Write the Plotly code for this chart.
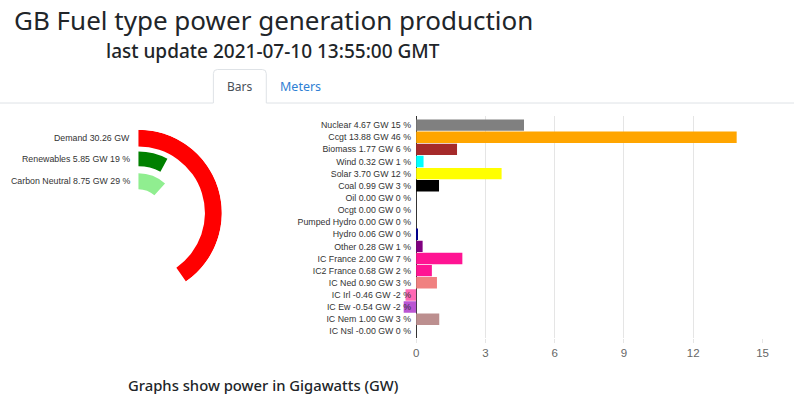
import plotly.graph_objects as go

# ---------------- data ----------------
fuel_names = ["Nuclear", "Ccgt", "Biomass", "Wind", "Solar", "Coal", "Oil", "Ocgt",
              "Pumped Hydro", "Hydro", "Other", "IC France", "IC2 France", "IC Ned",
              "IC Irl", "IC Ew", "IC Nem", "IC Nsl"]
fuel_gw = [4.67, 13.88, 1.77, 0.32, 3.70, 0.99, 0.00, 0.00,
           0.00, 0.06, 0.28, 2.00, 0.68, 0.90,
           -0.46, -0.54, 1.00, -0.00]
fuel_gw_text = ["4.67", "13.88", "1.77", "0.32", "3.70", "0.99", "0.00", "0.00",
                "0.00", "0.06", "0.28", "2.00", "0.68", "0.90",
                "-0.46", "-0.54", "1.00", "-0.00"]
fuel_pct = [15, 46, 6, 1, 12, 3, 0, 0, 0, 0, 1, 7, 2, 3, -2, -2, 3, 0]
fuel_colors = ["#808080", "#FFA500", "#A52A2A", "#00FFFF", "#FFFF00", "#000000",
               "#808000", "#FFC0CB", "#1E90FF", "#00008B", "#800080", "#FF1493",
               "#FF1493", "#F08080", "#FF69B4", "#BA55D3", "#BC8F8F", "#4682B4"]
x_ticks = [0, 3, 6, 9, 12, 15]

radial_names = ["Demand", "Renewables", "Carbon Neutral"]
radial_gw = [30.26, 5.85, 8.75]
radial_gw_text = ["30.26", "5.85", "8.75"]
radial_pct = [None, 19, 29]
radial_colors = ["#FF0000", "#008000", "#90EE90"]
radial_full_circle_gw = 75.0

title_text = "GB Fuel type power generation production"
subtitle_text = "last update 2021-07-10 13:55:00 GMT"
footer_text = "Graphs show power in Gigawatts (GW)"
tab_labels = ["Bars", "Meters"]

# ---------------- layout helpers ----------------
W, H = 800, 398


def px(x):
    return x / W


def py(y):
    return 1 - y / H


bar_labels = [f"{n} {t} GW {p} %" for n, t, p in zip(fuel_names, fuel_gw_text, fuel_pct)]

fig = go.Figure()

fig.add_trace(go.Bar(
    x=fuel_gw, y=bar_labels, orientation="h",
    marker=dict(color=fuel_colors, line=dict(width=0)),
    xaxis="x", yaxis="y", hoverinfo="x+y",
))

# radial rings (inner radius, thickness) in radial-axis units
ring_inner = [67, 47, 24]
ring_thick = [17, 15, 16]
deg_per_gw = 360.0 / radial_full_circle_gw
for name, v, col, base, th in zip(radial_names, radial_gw, radial_colors, ring_inner, ring_thick):
    fig.add_trace(go.Barpolar(
        r=[th], base=[base], theta=[v * deg_per_gw / 2], width=[v * deg_per_gw],
        marker=dict(color=col, line=dict(width=0)), name=name, subplot="polar",
    ))

cx, cy, R = 139.5, 213.0, 84.0

annotations = []
for name, t, p, base, th in zip(radial_names, radial_gw_text, radial_pct, ring_inner, ring_thick):
    txt = f"{name} {t} GW" + (f" {p} %" if p is not None else "")
    annotations.append(dict(
        x=px(133), y=py(cy - (base + th / 2)), xref="paper", yref="paper",
        text=txt, showarrow=False, xanchor="right", yanchor="middle",
        font=dict(family="Liberation Sans, Arial", size=8.8, color="#333333"),
    ))

annotations += [
    dict(x=px(275.5), y=py(19.5), xref="paper", yref="paper", text=title_text,
         showarrow=False, xanchor="center", yanchor="middle",
         font=dict(family="Noto Sans", size=26, color="#212529")),
    dict(x=px(275.5), y=py(51), xref="paper", yref="paper", text=subtitle_text,
         showarrow=False, xanchor="center", yanchor="middle",
         font=dict(family="Noto Sans", size=19, color="#212529", weight=500)),
    dict(x=px(241.5), y=py(86.5), xref="paper", yref="paper", text=tab_labels[0],
         showarrow=False, xanchor="center", yanchor="middle",
         font=dict(family="Noto Sans", size=12, color="#495057")),
    dict(x=px(303), y=py(86.5), xref="paper", yref="paper", text=tab_labels[1],
         showarrow=False, xanchor="center", yanchor="middle",
         font=dict(family="Noto Sans", size=12.5, color="#2f80d4")),
    dict(x=px(265.5), y=py(384.5), xref="paper", yref="paper", text=footer_text,
         showarrow=False, xanchor="center", yanchor="middle",
         font=dict(family="Noto Sans", size=14.8, color="#212529", weight=500)),
]

tab_l, tab_r, tab_t, line_y, rr = 215, 268.3, 69.5, 103, 4
tab_path = (f"M {px(tab_l)},{py(line_y)} L {px(tab_l)},{py(tab_t + rr)} "
            f"Q {px(tab_l)},{py(tab_t)} {px(tab_l + rr)},{py(tab_t)} "
            f"L {px(tab_r - rr)},{py(tab_t)} "
            f"Q {px(tab_r)},{py(tab_t)} {px(tab_r)},{py(tab_t + rr)} "
            f"L {px(tab_r)},{py(line_y)}")
shapes = [
    dict(type="line", xref="paper", yref="paper", x0=0, x1=px(tab_l), y0=py(line_y), y1=py(line_y),
         line=dict(color="#dee2e6", width=1)),
    dict(type="line", xref="paper", yref="paper", x0=px(tab_r), x1=1, y0=py(line_y), y1=py(line_y),
         line=dict(color="#dee2e6", width=1)),
    dict(type="path", xref="paper", yref="paper", path=tab_path,
         line=dict(color="#dee2e6", width=1)),
]

fig.update_layout(
    width=W, height=H,
    margin=dict(l=0, r=0, t=0, b=0),
    paper_bgcolor="white", plot_bgcolor="white",
    showlegend=False,
    bargap=0.06,
    xaxis=dict(
        domain=[px(401), px(768.3)], range=[-0.787, 15], tickvals=x_ticks,
        showgrid=True, gridcolor="#e5e5e5", gridwidth=1,
        zeroline=True, zerolinecolor="#333333", zerolinewidth=1,
        ticks="outside", ticklen=4, tickcolor="#e5e5e5",
        tickfont=dict(family="Liberation Sans, Arial", size=11.5, color="#666666"),
        showline=False, fixedrange=True,
    ),
    yaxis=dict(
        domain=[py(338), py(116)], type="category",
        categoryorder="array", categoryarray=bar_labels,
        range=[17.55, -0.75], showgrid=False, zeroline=False, ticks="",
        ticklabelstandoff=-14,
        tickfont=dict(family="Liberation Sans, Arial", size=8.8, color="#333333"),
        fixedrange=True,
    ),
    polar=dict(
        domain=dict(x=[px(cx - R), px(cx + R)], y=[py(cy + R), py(cy - R)]),
        bgcolor="rgba(0,0,0,0)",
        radialaxis=dict(visible=False, range=[0, R]),
        angularaxis=dict(visible=False, rotation=90, direction="clockwise"),
    ),
    annotations=annotations,
    shapes=shapes,
)

fig.write_html(
    "out.html",
    config={"displayModeBar": False},
    post_script="document.body.style.margin='0';document.body.style.overflow='hidden';",
)
